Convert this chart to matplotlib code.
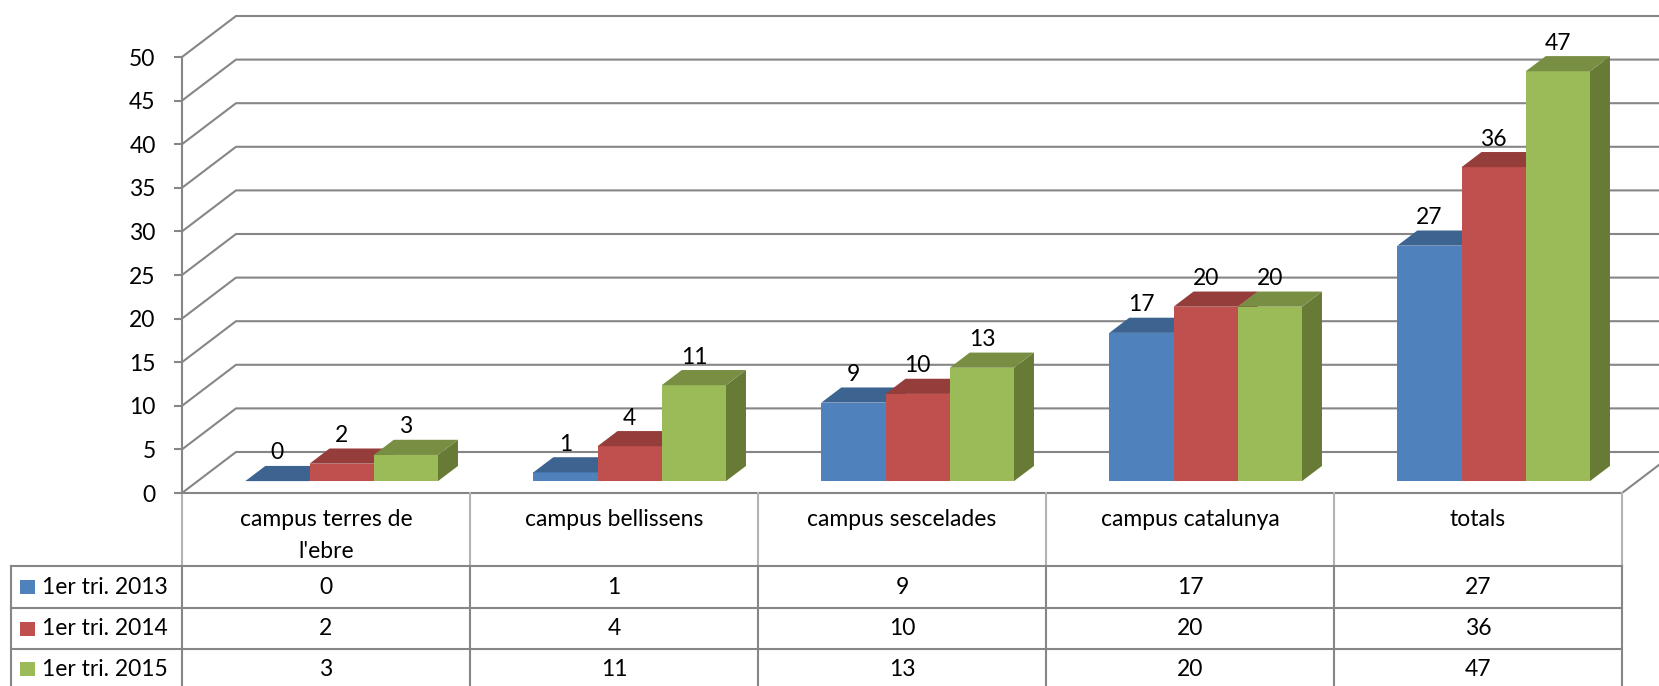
"""Clustered 3D-style column chart with data table (1er tri. 2013-2015 per campus)."""
import matplotlib
matplotlib.use("Agg")
import matplotlib.pyplot as plt
from matplotlib.patches import Polygon, Rectangle
from matplotlib.transforms import IdentityTransform, Affine2D, blended_transform_factory

plt.rcParams["font.family"] = ["Lato", "DejaVu Sans"]

# ---- data -------------------------------------------------------------
categories = ["campus terres de\nl'ebre", "campus bellissens", "campus sescelades",
              "campus catalunya", "totals"]
series_names = ["1er tri. 2013", "1er tri. 2014", "1er tri. 2015"]
vals_2013 = [0, 1, 9, 17, 27]
vals_2014 = [2, 4, 10, 20, 36]
vals_2015 = [3, 11, 13, 20, 47]
y_ticks = list(range(0, 51, 5))

series = [vals_2013, vals_2014, vals_2015]
front_cols = ["#4F81BD", "#C0504D", "#9BBB59"]
top_cols = ["#3D6491", "#953D3B", "#788F43"]
side_cols = ["#365A84", "#863634", "#677A36"]

GRID = "#868686"
TABLE_LIGHT = "#b4b4b4"
FS = 16.5

W, H = 1659, 686
DX, DY = 54, 41          # full floor depth in pixels
D0, D1 = 0.29, 0.66      # depth slice occupied by the bars
BAR_W = 0.223            # bar width in category units

fig = plt.figure(figsize=(W / 100, H / 100), dpi=100)
ax = fig.add_axes([182 / W, (H - 493) / H, (1622 - 182) / W, (493 - 57) / H])
ax.set_xlim(-0.5, len(categories) - 0.5)
ax.set_ylim(0, 50)
ax.set_autoscale_on(False)
ax.patch.set_visible(False)
for s in ["top", "right", "bottom"]:
    ax.spines[s].set_visible(False)
ax.spines["left"].set_color(GRID)
ax.spines["left"].set_linewidth(1.5)
ax.set_xticks([])
ax.set_yticks(y_ticks)
ax.tick_params(axis="y", direction="out", length=6, width=1.5, color=GRID,
               pad=13, labelsize=FS)

PIX = IdentityTransform()


def proj(x, v, d):
    px, py = ax.transData.transform((x, v))
    return px + d * DX, py + d * DY


x_lo, x_hi = -0.5, len(categories) - 0.5

# walls: side wall diagonals + back wall gridlines
for v in y_ticks:
    pts = [proj(x_lo, v, 0), proj(x_lo, v, 1), proj(x_hi, v, 1)]
    ax.plot([p[0] for p in pts], [p[1] for p in pts], color=GRID, lw=1.5,
            transform=PIX, clip_on=False, zorder=1)
# floor front and right edges
pts = [proj(x_lo, 0, 0), proj(x_hi, 0, 0), proj(x_hi, 0, 1)]
ax.plot([p[0] for p in pts], [p[1] for p in pts], color=GRID, lw=1.5,
        transform=PIX, clip_on=False, zorder=1)

# bars
for i in range(len(categories)):
    for j, vals in enumerate(series):
        v = vals[i]
        xl = i + (j - 1.5) * BAR_W
        xr = xl + BAR_W
        side = [proj(xr, 0, D0), proj(xr, 0, D1), proj(xr, v, D1), proj(xr, v, D0)]
        front = [proj(xl, 0, D0), proj(xr, 0, D0), proj(xr, v, D0), proj(xl, v, D0)]
        top = [proj(xl, v, D0), proj(xr, v, D0), proj(xr, v, D1), proj(xl, v, D1)]
        for poly, col in ((side, side_cols[j]), (front, front_cols[j]), (top, top_cols[j])):
            ax.add_patch(Polygon(poly, closed=True, facecolor=col, edgecolor="none",
                                 transform=PIX, clip_on=False, zorder=3))
        lx = proj((xl + xr) / 2, v, D0)[0]
        ly = proj((xl + xr) / 2, v, D1)[1]
        ax.text(lx, ly + 13, str(v), transform=PIX, ha="center", va="center",
                fontsize=FS, zorder=5)

# ---- data table --------------------------------------------------------
ty = Affine2D().scale(1, -1).translate(0, H)      # y in pixels from top
tab = blended_transform_factory(ax.transData, ty)
ROW_Y = [493, 566, 608, 649, 700]
col_px = ax.transData.transform((1, 0))[0] - ax.transData.transform((0, 0))[0]
x_leg = x_lo - (182 - 11) / col_px

# header verticals (light)
for k in range(len(categories) + 1):
    ax.plot([x_lo + k, x_lo + k], [ROW_Y[0], ROW_Y[1]], color=TABLE_LIGHT, lw=1.5,
            transform=tab, clip_on=False, zorder=1)
# body grid
for y in ROW_Y[1:4]:
    ax.plot([x_leg, x_hi], [y, y], color=GRID, lw=1.5, transform=tab,
            clip_on=False, zorder=1)
for xv in [x_leg] + [x_lo + k for k in range(len(categories) + 1)]:
    ax.plot([xv, xv], [ROW_Y[1], ROW_Y[-1]], color=GRID, lw=1.5, transform=tab,
            clip_on=False, zorder=1)

for i, cat in enumerate(categories):
    for k, line in enumerate(cat.split("\n")):
        ax.text(i, 520 + 32 * k, line, transform=tab, ha="center", va="center",
                fontsize=FS)

for r, (name, vals) in enumerate(zip(series_names, series)):
    yc = (ROW_Y[r + 1] + ROW_Y[r + 2]) / 2
    if r == 2:
        yc = 669
    for i, v in enumerate(vals):
        ax.text(i, yc, str(v), transform=tab, ha="center", va="center", fontsize=FS)
    ax.add_patch(Rectangle((20, H - yc - 7), 15, 14, facecolor=front_cols[r],
                           edgecolor="none", transform=PIX, clip_on=False))
    ax.text(42, H - yc, name, transform=PIX, ha="left", va="center", fontsize=FS)

fig.savefig("out.png", dpi=100, facecolor="white")
